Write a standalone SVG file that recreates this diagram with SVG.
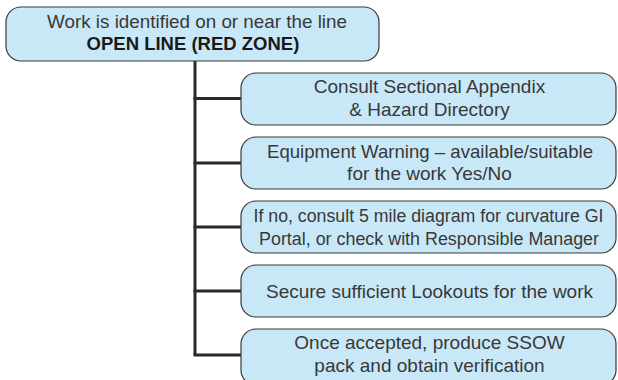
<svg xmlns="http://www.w3.org/2000/svg" width="618" height="380" viewBox="0 0 618 380">
<style>
.box{fill:#c8e8f8;stroke:#3a3a3a;stroke-width:1.2}
.t{font-family:"Liberation Sans",Arial,sans-serif;font-size:19px;fill:#383838;text-anchor:middle}
.b{font-weight:bold;font-size:18.5px;fill:#1a1a1a}
.s{font-size:18px}
.c{fill:none;stroke:#2a2a2a;stroke-width:3}
</style>
<rect width="618" height="380" fill="#fff"/>
<g id="connectors">
<path class="c" d="M195 61 V355"/>
<path class="c" d="M193.5 98.5 H241 M193.5 163 H241 M193.5 227 H241 M193.5 291 H241 M193.5 355 H241"/>
</g>
<g id="top">
<rect class="box" x="6" y="7" width="373" height="54" rx="15"/>
<text class="t" x="197" y="27.5" textLength="300" lengthAdjust="spacingAndGlyphs">Work is identified on or near the line</text>
<text class="t b" x="193" y="50">OPEN LINE (RED ZONE)</text>
</g>
<g id="n1">
<rect class="box" x="241" y="73" width="375" height="52" rx="15"/>
<text class="t" x="429.5" y="93">Consult Sectional Appendix</text>
<text class="t" x="429.5" y="115.5">&amp; Hazard Directory</text>
</g>
<g id="n2">
<rect class="box" x="241" y="137" width="375" height="52" rx="15"/>
<text class="t" x="430" y="157.5" textLength="326" lengthAdjust="spacingAndGlyphs">Equipment Warning – available/suitable</text>
<text class="t" x="429.5" y="180">for the work Yes/No</text>
</g>
<g id="n3">
<rect class="box" x="241" y="201" width="375" height="52" rx="15"/>
<text class="t s" x="428.5" y="222" textLength="350" lengthAdjust="spacingAndGlyphs">If no, consult 5 mile diagram for curvature GI</text>
<text class="t s" x="429" y="244.5" textLength="340" lengthAdjust="spacingAndGlyphs">Portal, or check with Responsible Manager</text>
</g>
<g id="n4">
<rect class="box" x="241" y="265" width="375" height="52" rx="15"/>
<text class="t" x="429.5" y="297.5">Secure sufficient Lookouts for the work</text>
</g>
<g id="n5">
<rect class="box" x="241" y="329" width="375" height="56" rx="15"/>
<text class="t" x="429.5" y="349">Once accepted, produce SSOW</text>
<text class="t" x="429.5" y="372">pack and obtain verification</text>
</g>
</svg>
